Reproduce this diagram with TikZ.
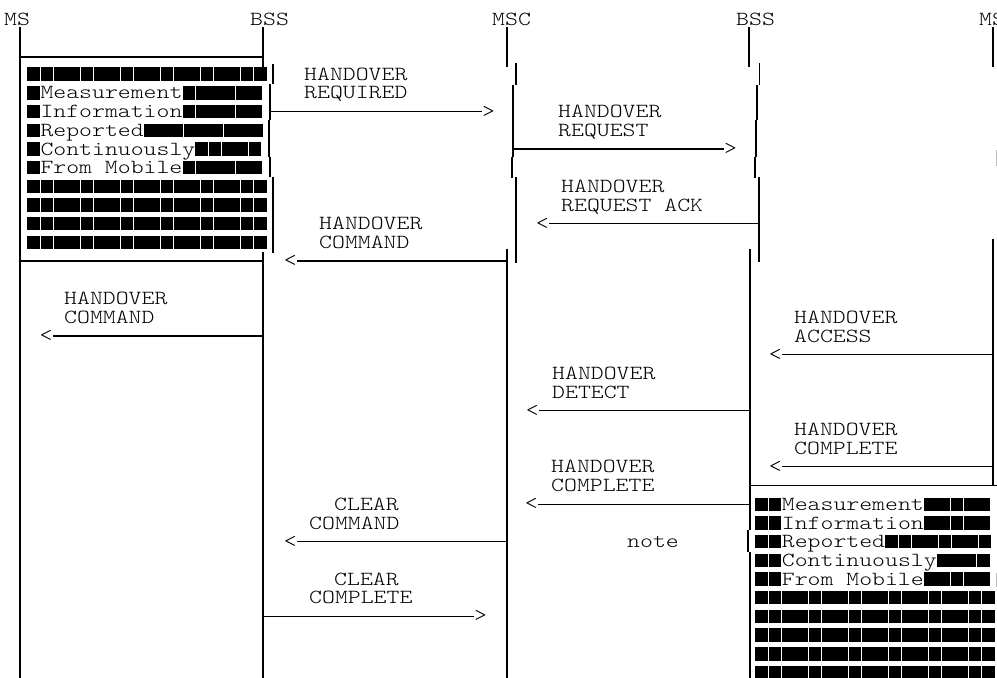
\documentclass[tikz,border=0pt]{standalone}
\usepackage{fontspec}
\newfontfamily\msgfont{lmmonolt10-regular.otf}[FakeStretch=1.2286]
\newcommand\Ry[1]{(18+18.7*#1)}
\newcommand\blkrow[3]{%
  \foreach \i in {1,...,#3}{%
    \fill[black] ({#1+(\i-1)*13.33+0.3},{\Ry{#2}-6.7}) rectangle ({#1+\i*13.33-0.3},{\Ry{#2}+6.7});}}
\tikzset{
  txt/.style={font=\msgfont\fontsize{20}{20}\selectfont, inner sep=0pt, anchor=base west},
  head/.style={font=\msgfont\fontsize{20}{20}\selectfont, inner sep=0pt},
  ln/.style={line width=1.3pt, line cap=butt},
  faint/.style={line width=1pt, black!25},
}
\begin{document}
\begin{tikzpicture}[x=1pt,y=-1pt]
\fill[white] (0,0) rectangle (997,678);
\useasboundingbox (0,0) rectangle (997,678);

% lifeline labels
\node[txt] (ms1)  at (4,  {\Ry{0}+7.6}) {MS};
\node[txt] (bss1) at (250,{\Ry{0}+7.6}) {BSS};
\node[txt] (msc)  at (492,{\Ry{0}+7.6}) {MSC};
\node[txt] (bss2) at (736,{\Ry{0}+7.6}) {BSS};
\node[txt] (ms2)  at (979,{\Ry{0}+7.6}) {MS};

% ---- lifelines ----
% MS (left)
\draw[ln] (20,27) -- (20,678);
% BSS (left)
\draw[ln] (263,27) -- (263,67);
\draw[ln] (273,64) -- (273,84);
\draw[ln] (270,84) -- (270,120);
\draw[ln] (269,120) -- (269,157);
\draw[ln] (270,157) -- (270,177);
\draw[ln] (273,177) -- (273,253);
\draw[ln] (263,252) -- (263,678);
% MSC
\draw[ln] (507,27) -- (507,67);
\draw[ln] (516,63) -- (516,85);
\draw[ln] (513,85) -- (513,157);
\draw[ln] (512,157) -- (512,178);
\draw[ln] (516,177) -- (516,263);
\draw[ln] (507,249) -- (507,678);
% BSS (right)
\draw[ln] (749,27) -- (749,67);
\draw[ln] (759.5,63) -- (759.5,85);
\draw[ln] (757,85) -- (757,120);
\draw[ln] (756,120) -- (756,157);
\draw[ln] (755,157) -- (755,178);
\draw[ln] (759,177) -- (759,262);
\draw[ln] (750,249) -- (750,530);
\draw[ln] (748,530) -- (748,552);
\draw[ln] (750,552) -- (750,678);
% MS (right)
\draw[ln] (993,27) -- (993,67);
\draw[faint] (996,150) -- (996,166);
\draw[ln] (993,239) -- (993,485.5);
\draw[faint] (996,573) -- (996,587);

% ---- left note box ----
\draw[ln] (20,57) -- (263,57);
\draw[ln] (20,261.1) -- (263,261.1);
\blkrow{27}{3}{18}
\blkrow{27}{4}{1} \node[txt] (l1) at (40.3,{\Ry{4}+6.1}) {Measurement}; \blkrow{182.2}{4}{6}
\blkrow{27}{5}{1} \node[txt] (l2) at (40.3,{\Ry{5}+6.1}) {Information}; \blkrow{182.2}{5}{6}
\blkrow{27}{6}{1} \node[txt] (l3) at (40.3,{\Ry{6}+6.1}) {Reported}; \blkrow{143.5}{6}{9}
\blkrow{27}{7}{1} \node[txt] (l4) at (40.3,{\Ry{7}+6.1}) {Continuously}; \blkrow{195.1}{7}{5}
\blkrow{27}{8}{1} \node[txt] (l5) at (40.3,{\Ry{8}+6.1}) {From Mobile}; \blkrow{182.2}{8}{6}
\blkrow{27}{9}{18}
\blkrow{27}{10}{18}
\blkrow{27}{11}{18}
\blkrow{27}{12}{18}

% ---- right note box ----
\draw[ln] (750,{\Ry{25}}) -- (997,{\Ry{25}});
\blkrow{755}{26}{2} \node[txt] (r1) at (781.7,{\Ry{26}+6.1}) {Measurement}; \blkrow{923.6}{26}{5}
\blkrow{755}{27}{2} \node[txt] (r2) at (781.7,{\Ry{27}+6.1}) {Information}; \blkrow{923.6}{27}{5}
\blkrow{755}{28}{2} \node[txt] (r3) at (781.7,{\Ry{28}+6.1}) {Reported}; \blkrow{884.9}{28}{8}
\blkrow{755}{29}{2} \node[txt] (r4) at (781.7,{\Ry{29}+6.1}) {Continuously}; \blkrow{936.5}{29}{4}
\blkrow{755}{30}{2} \node[txt] (r5) at (781.7,{\Ry{30}+6.1}) {From Mobile}; \blkrow{923.6}{30}{5}
\blkrow{755}{31}{18}
\blkrow{755}{32}{18}
\blkrow{755}{33}{18}
\blkrow{755}{34}{18}
\blkrow{755}{35}{18}

% ---- message labels ----
\node[txt] (m1a) at (304,{\Ry{3}+6.1}) {HANDOVER};
\node[txt] (m1b) at (304,{\Ry{4}+6.1}) {REQUIRED};
\node[txt] (m2a) at (558,{\Ry{5}+6.1}) {HANDOVER};
\node[txt] (m2b) at (558,{\Ry{6}+6.1}) {REQUEST};
\node[txt] (m3a) at (561,{\Ry{9}+6.1}) {HANDOVER};
\node[txt] (m3b) at (561,{\Ry{10}+6.1}) {REQUEST ACK};
\node[txt] (m4a) at (319,{\Ry{11}+6.1}) {HANDOVER};
\node[txt] (m4b) at (319,{\Ry{12}+6.1}) {COMMAND};
\node[txt] (m5a) at (64,{\Ry{15}+6.1}) {HANDOVER};
\node[txt] (m5b) at (64,{\Ry{16}+6.1}) {COMMAND};
\node[txt] (m6a) at (794,{\Ry{16}+6.1}) {HANDOVER};
\node[txt] (m6b) at (794,{\Ry{17}+6.1}) {ACCESS};
\node[txt] (m7a) at (552,{\Ry{19}+6.1}) {HANDOVER};
\node[txt] (m7b) at (552,{\Ry{20}+6.1}) {DETECT};
\node[txt] (m8a) at (794,{\Ry{22}+6.1}) {HANDOVER};
\node[txt] (m8b) at (794,{\Ry{23}+6.1}) {COMPLETE};
\node[txt] (m9a) at (551,{\Ry{24}+6.1}) {HANDOVER};
\node[txt] (m9b) at (551,{\Ry{25}+6.1}) {COMPLETE};
\node[txt] (m10a) at (334,{\Ry{26}+6.1}) {CLEAR};
\node[txt] (m10b) at (309,{\Ry{27}+6.1}) {COMMAND};
\node[txt] (note) at (627,{\Ry{28}+6.1}) {note};
\node[txt] (m11a) at (334,{\Ry{30}+6.1}) {CLEAR};
\node[txt] (m11b) at (309,{\Ry{31}+6.1}) {COMPLETE};

% ---- arrow heads ----
\node[head, anchor=west] (h1)  at (482,{\Ry{5}}) {>};
\node[head, anchor=west] (h2)  at (724,{\Ry{7}}) {>};
\node[head, anchor=east] (h3)  at (549,{\Ry{11}}) {<};
\node[head, anchor=east] (h4)  at (297,{\Ry{13}}) {<};
\node[head, anchor=east] (h5)  at (52.7,{\Ry{17}}) {<};
\node[head, anchor=east] (h6)  at (782,{\Ry{18}}) {<};
\node[head, anchor=east] (h7)  at (539,{\Ry{21}}) {<};
\node[head, anchor=east] (h8)  at (782,{\Ry{24}}) {<};
\node[head, anchor=east] (h9)  at (538,{\Ry{26}}) {<};
\node[head, anchor=east] (h10) at (297,{\Ry{28}}) {<};
\node[head, anchor=west] (h11) at (474,{\Ry{32}}) {>};

% ---- arrow start points on lifelines ----
\coordinate (s1)  at (270,{\Ry{5}});
\coordinate (s2)  at (513,{\Ry{7}});
\coordinate (s3)  at (759,{\Ry{11}});
\coordinate (s4)  at (507,{\Ry{13}});
\coordinate (s5)  at (263,{\Ry{17}});
\coordinate (s6)  at (993,{\Ry{18}});
\coordinate (s7)  at (750,{\Ry{21}});
\coordinate (s8)  at (993,{\Ry{24}});
\coordinate (s9)  at (750,{\Ry{26}});
\coordinate (s10) at (507,{\Ry{28}});
\coordinate (s11) at (263,{\Ry{32}});

% ---- connectors ----
\draw[ln] (s1) -- (h1.west);
\draw[ln] (s2) -- (h2.west);
\draw[ln] (s3) -- (h3.east);
\draw[ln] (s4) -- (h4.east);
\draw[ln] (s5) -- (h5.east);
\draw[ln] (s6) -- (h6.east);
\draw[ln] (s7) -- (h7.east);
\draw[ln] (s8) -- (h8.east);
\draw[ln] (s9) -- (h9.east);
\draw[ln] (s10) -- (h10.east);
\draw[ln] (s11) -- (h11.west);
\end{tikzpicture}
\end{document}
